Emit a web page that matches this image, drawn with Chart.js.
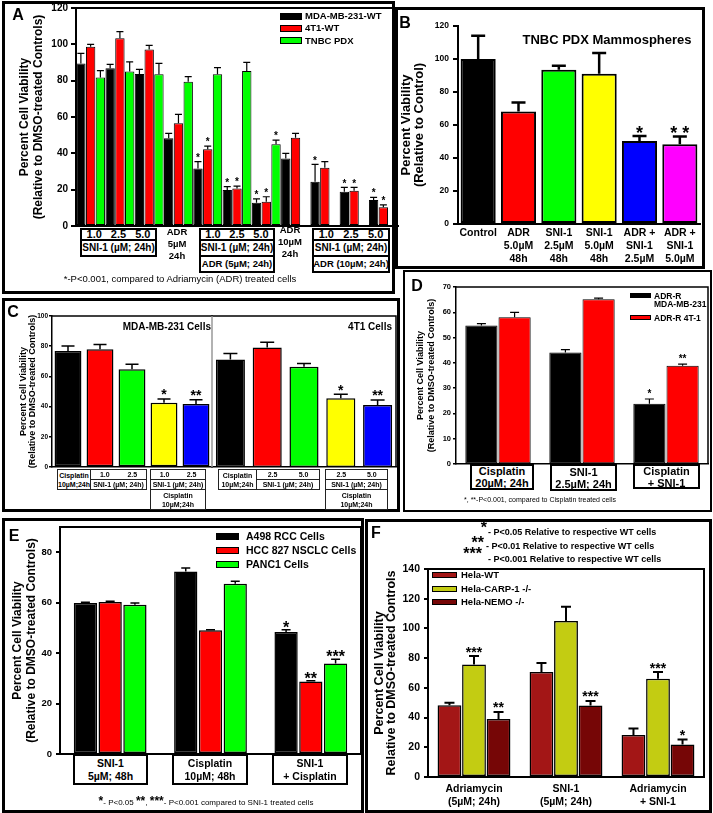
<!DOCTYPE html>
<html>
<head>
<meta charset="utf-8">
<title>SNI-1 cell viability panels</title>
<script src="https://cdn.jsdelivr.net/npm/chart.js@4.4.1/dist/chart.umd.min.js"></script>
<style>
body { margin:0; width:713px; height:813px; position:relative; overflow:hidden; background:#fff; color:#000;
       font-family:'Liberation Sans', Arial, Helvetica, sans-serif; }
.pn { position:absolute; box-sizing:border-box; border:3px solid #000; }
canvas { position:absolute; }
.c { position:absolute; transform:translate(-50%,-50%); text-align:center; white-space:nowrap; font-weight:bold; line-height:1; }
.l { position:absolute; transform:translateY(-50%); white-space:nowrap; font-weight:bold; line-height:1; }
.r { position:absolute; transform:translate(-100%,-50%); white-space:nowrap; font-weight:bold; line-height:1; }
.bx { position:absolute; box-sizing:border-box; border:2px solid #000; display:flex; align-items:center; justify-content:center;
      text-align:center; white-space:nowrap; font-weight:bold; line-height:1; background:#fff; }
.thin { border:1px solid #222; }
.sa { justify-content:space-around; }
.sw { position:absolute; box-sizing:border-box; border:1px solid #000; }
.tag { position:absolute; transform:translate(-50%,-50%); font-weight:bold; font-size:16px; line-height:1; }
.st { font-size:12px; }
</style>
</head>
<body>
<!-- panel frames -->
<div class="pn" style="left:2px;top:1px;width:393px;height:293px"></div>
<div class="pn" style="left:395px;top:7px;width:310px;height:262px"></div>
<div class="pn" style="left:2px;top:298px;width:398px;height:214px"></div>
<div class="pn" style="left:403px;top:270px;width:309px;height:242px;border-width:2px"></div>
<div class="pn" style="left:2px;top:518px;width:362px;height:295px"></div>
<div class="pn" style="left:365px;top:519px;width:347px;height:294px"></div>

<canvas id="chartA"></canvas>
<canvas id="chartB"></canvas>
<canvas id="chartC1"></canvas>
<canvas id="chartC2"></canvas>
<canvas id="chartD"></canvas>
<canvas id="chartE"></canvas>
<canvas id="chartF"></canvas>

<div class="tag" style="left:18px;top:15px">A</div>
<div class="tag" style="left:405px;top:23px">B</div>
<div class="tag" style="left:13px;top:312px">C</div>
<div class="tag" style="left:417px;top:286px">D</div>
<div class="tag" style="left:14px;top:536px">E</div>
<div class="tag" style="left:376px;top:533px">F</div>

<!-- A: treatment table -->
<div class="bx sa" style="left:80px;top:228px;width:77px;height:13px;font-size:11px"><span>1.0</span><span>2.5</span><span>5.0</span></div>
<div class="bx" style="left:80px;top:239px;width:77px;height:18px;font-size:10px">SNI-1 (µM; 24h)</div>
<div class="c" style="left:177px;top:244px;font-size:9.5px;line-height:12px">ADR<br>5µM<br>24h</div>
<div class="bx sa" style="left:199px;top:228px;width:76px;height:13px;font-size:11px"><span>1.0</span><span>2.5</span><span>5.0</span></div>
<div class="bx" style="left:199px;top:239px;width:76px;height:18px;font-size:10px">SNI-1 (µM; 24h)</div>
<div class="bx" style="left:199px;top:255px;width:76px;height:18px;font-size:9.5px">ADR (5µM; 24h)</div>
<div class="c" style="left:290px;top:242px;font-size:9.5px;line-height:12px">ADR<br>10µM<br>24h</div>
<div class="bx sa" style="left:312px;top:228px;width:78px;height:13px;font-size:11px"><span>1.0</span><span>2.5</span><span>5.0</span></div>
<div class="bx" style="left:312px;top:239px;width:78px;height:18px;font-size:10px">SNI-1 (µM; 24h)</div>
<div class="bx" style="left:312px;top:255px;width:78px;height:18px;font-size:9.5px">ADR (10µM; 24h)</div>
<div class="c" style="left:180px;top:279px;font-size:9.5px;font-weight:normal">*-P&lt;0.001, compared to Adriamycin (ADR) treated cells</div>

<!-- B -->
<div class="c" style="left:607px;top:39px;font-size:13px">TNBC PDX Mammospheres</div>

<!-- C -->
<div class="r" style="left:211px;top:327px;font-size:10px">MDA-MB-231 Cells</div>
<div class="r" style="left:392px;top:327px;font-size:10px">4T1 Cells</div>
<div class="bx thin" style="left:57px;top:469px;width:34px;height:21px;font-size:7px;line-height:9px">Cisplatin<br>10µM;24h</div>
<div class="bx thin sa" style="left:90px;top:469px;width:57px;height:11px;font-size:7px"><span>1.0</span><span>2.5</span></div>
<div class="bx thin" style="left:90px;top:479px;width:57px;height:11px;font-size:7px">SNI-1 (µM; 24h)</div>
<div class="bx thin sa" style="left:150px;top:469px;width:56px;height:11px;font-size:7px"><span>1.0</span><span>2.5</span></div>
<div class="bx thin" style="left:150px;top:479px;width:56px;height:11px;font-size:7px">SNI-1 (µM; 24h)</div>
<div class="bx thin" style="left:150px;top:489px;width:56px;height:21px;font-size:7px;line-height:9px">Cisplatin<br>10µM;24h</div>
<div class="bx thin" style="left:218px;top:469px;width:39px;height:21px;font-size:7px;line-height:9px">Cisplatin<br>10µM;24h</div>
<div class="bx thin sa" style="left:256px;top:469px;width:64px;height:11px;font-size:7px"><span>2.5</span><span>5.0</span></div>
<div class="bx thin" style="left:256px;top:479px;width:64px;height:11px;font-size:7px">SNI-1 (µM; 24h)</div>
<div class="bx thin sa" style="left:325px;top:469px;width:63px;height:11px;font-size:7px"><span>2.5</span><span>5.0</span></div>
<div class="bx thin" style="left:325px;top:479px;width:63px;height:11px;font-size:7px">SNI-1 (µM; 24h)</div>
<div class="bx thin" style="left:325px;top:489px;width:63px;height:21px;font-size:7px;line-height:9px">Cisplatin<br>10µM;24h</div>

<!-- D -->
<div class="sw" style="left:630px;top:293px;width:21px;height:5px;background:#000"></div>
<div class="l" style="left:654px;top:295.5px;font-size:8.5px">ADR-R</div>
<div class="l" style="left:654px;top:304px;font-size:8.5px">MDA-MB-231</div>
<div class="sw" style="left:630px;top:315px;width:21px;height:5px;background:#ff0000"></div>
<div class="l" style="left:654px;top:317.5px;font-size:8.5px">ADR-R 4T-1</div>
<div class="bx" style="left:470px;top:464px;width:64px;height:26px;font-size:11px;line-height:12px">Cisplatin<br>20µM; 24h</div>
<div class="bx" style="left:550px;top:464px;width:67px;height:27px;font-size:11px;line-height:12px">SNI-1<br>2.5µM; 24h</div>
<div class="bx" style="left:633px;top:464px;width:67px;height:25px;font-size:11px;line-height:12px">Cisplatin<br>+ SNI-1</div>
<div class="c" style="left:540px;top:499px;font-size:7px;font-weight:normal">*, **-P&lt;0.001, compared to Cisplatin treated cells</div>

<!-- E -->
<div class="bx" style="left:73px;top:754px;width:75px;height:31px;font-size:10.5px;line-height:13px">SNI-1<br>5µM; 48h</div>
<div class="bx" style="left:172px;top:754px;width:76px;height:31px;font-size:10.5px;line-height:13px">Cisplatin<br>10µM; 48h</div>
<div class="bx" style="left:272px;top:754px;width:76px;height:31px;font-size:10.5px;line-height:13px">SNI-1<br>+ Cisplatin</div>
<div class="c" style="left:206px;top:801px;font-size:8px;font-weight:normal"><b class="st">*</b>- P&lt;0.05 <b class="st">**</b>, <b class="st">***</b>- P&lt;0.001 compared to SNI-1 treated cells</div>

<!-- F -->
<div class="r" style="left:487px;top:528px;font-size:16px">*</div>
<div class="l" style="left:488px;top:532px;font-size:9px">- P&lt;0.05 Relative to respective WT cells</div>
<div class="r" style="left:484px;top:543px;font-size:16px">**</div>
<div class="l" style="left:486px;top:546px;font-size:9px">- P&lt;0.01 Relative to respective WT cells</div>
<div class="r" style="left:482px;top:554px;font-size:16px">***</div>
<div class="l" style="left:488px;top:559px;font-size:9px">- P&lt;0.001 Relative to respective WT cells</div>

<script>
// ---------- A: SNI-1 +/- adriamycin, three TNBC models
const aGroups = ['SNI-1 1.0', 'SNI-1 2.5', 'SNI-1 5.0', 'ADR 5', 'ADR5 + SNI-1 1.0', 'ADR5 + SNI-1 2.5',
                 'ADR5 + SNI-1 5.0', 'ADR 10', 'ADR10 + SNI-1 1.0', 'ADR10 + SNI-1 2.5', 'ADR10 + SNI-1 5.0'];
const aSeries = ['MDA-MB-231-WT', '4T1-WT', 'TNBC PDX'];
const aColors = ['#000000', '#ff0000', '#00ff00'];
const aMDA = [89.5, 86.8, 83.7, 48.3, 31.7, 19.8, 12.8, 37.1, 24.4, 18.9, 14.3];
const aMDAerr = [5.5, 2.2, 2.5, 2.7, 3.7, 1.9, 2.1, 2.9, 9.5, 2.4, 1.5];
const aMDAsig = ['', '', '', '', '*', '*', '*', '', '*', '*', '*'];
const a4T1 = [98.7, 103.3, 97.2, 56.5, 42.2, 20.7, 13.4, 48.6, 32.1, 19.4, 10.3];
const a4T1err = [1.3, 3.7, 2.2, 5.0, 1.8, 1.3, 2.7, 2.4, 3.3, 1.9, 1.3];
const a4T1sig = ['', '', '', '', '*', '*', '*', '', '', '*', '*'];
const aPDX = [81.7, 85.0, 83.5, 79.4, 83.5, 85.3, 45.0, null, null, null, null];
const aPDXerr = [3.8, 5.3, 6.0, 2.8, 3.7, 4.8, 2.3, 0, 0, 0, 0];
const aPDXsig = ['', '', '', '', '', '', '*', '', '', '', ''];

// ---------- B: TNBC PDX mammospheres
const bGroups = [['Control'], ['ADR', '5.0µM', '48h'], ['SNI-1', '2.5µM', '48h'], ['SNI-1', '5.0µM', '48h'],
                 ['ADR +', 'SNI-1', '2.5µM'], ['ADR +', 'SNI-1', '5.0µM']];
const bVals = [100, 68.2, 93.5, 91, 50.3, 48.4];
const bErr = [14.1, 5.5, 2.4, 12.6, 3.1, 4.6];
const bSig = ['', '', '', '', '*', '* *'];
const bColors = ['#000000', '#ff0000', '#00ff00', '#ffff00', '#0000ff', '#ff00ff'];

// ---------- C: SNI-1 +/- cisplatin
const cColors = ['#000000', '#ff0000', '#00ff00', '#ffff00', '#0000ff'];
const cMDAgroups = ['Cisplatin', 'SNI-1 1.0', 'SNI-1 2.5', 'SNI-1 1.0 + Cisplatin', 'SNI-1 2.5 + Cisplatin'];
const cMDA = [76.9, 78.0, 64.8, 42.6, 41.8];
const cMDAerr = [3.3, 3.1, 3.3, 2.5, 2.8];
const cMDAsig = ['', '', '', '*', '**'];
const c4T1groups = ['Cisplatin', 'SNI-1 2.5', 'SNI-1 5.0', 'SNI-1 2.5 + Cisplatin', 'SNI-1 5.0 + Cisplatin'];
const c4T1 = [71.2, 79.1, 66.4, 45.5, 41.1];
const c4T1err = [4.0, 3.5, 2.2, 2.6, 3.3];
const c4T1sig = ['', '', '', '*', '**'];

// ---------- D: adriamycin-resistant cells
const dGroups = ['Cisplatin 20µM; 24h', 'SNI-1 2.5µM; 24h', 'Cisplatin + SNI-1'];
const dMDA = [54.8, 44.1, 23.8];
const dMDAerr = [0.7, 1.1, 1.9];
const dMDAsig = ['', '', '*'];
const d4T1 = [58.0, 65.2, 38.9];
const d4T1err = [2.0, 0.4, 0.6];
const d4T1sig = ['', '', '**'];

// ---------- E: other cancer lines
const eGroups = ['SNI-1 5µM; 48h', 'Cisplatin 10µM; 48h', 'SNI-1 + Cisplatin'];
const eSeries = ['A498 RCC Cells', 'HCC 827 NSCLC Cells', 'PANC1 Cells'];
const eColors = ['#000000', '#ff0000', '#00ff00'];
const eA498 = [59.9, 72.4, 48.4];
const eA498err = [0.3, 1.3, 0.9];
const eA498sig = ['', '', '*'];
const eHCC = [60.3, 49.1, 28.7];
const eHCCerr = [0.3, 0.2, 0.3];
const eHCCsig = ['', '', '**'];
const ePANC = [59.2, 67.5, 35.9];
const ePANCerr = [0.7, 1.0, 1.7];
const ePANCsig = ['', '', '***'];

// ---------- F: HeLa knockouts
const fGroups = [['Adriamycin', '(5µM; 24h)'], ['SNI-1', '(5µM; 24h)'], ['Adriamycin', '+ SNI-1']];
const fSeries = ['Hela-WT', 'Hela-CARP-1 -/-', 'Hela-NEMO -/-'];
const fColors = ['#a31616', '#c3cc12', '#760606'];
const fWT = [48.3, 70.6, 28.3];
const fWTerr = [1.6, 6.1, 4.3];
const fWTsig = ['', '', ''];
const fCARP = [75.8, 105.0, 66.1];
const fCARPerr = [5.6, 9.6, 4.5];
const fCARPsig = ['***', '', '***'];
const fNEMO = [39.1, 48.1, 21.8];
const fNEMOerr = [4.7, 3.1, 3.4];
const fNEMOsig = ['**', '***', '*'];

const FONT = "'Liberation Sans', Arial, Helvetica, sans-serif";
Chart.defaults.font.family = FONT;
Chart.defaults.color = '#000';

// error bars (upper half only) plus significance stars
const errorBars = {
  id: 'errorBars',
  afterDatasetsDraw(chart, args, o) {
    const ctx = chart.ctx;
    const y = chart.scales.y;
    ctx.save();
    ctx.strokeStyle = '#000';
    ctx.fillStyle = '#000';
    ctx.lineWidth = o.width;
    ctx.textAlign = 'center';
    ctx.textBaseline = 'alphabetic';
    ctx.font = 'bold ' + o.star + 'px ' + FONT;
    chart.data.datasets.forEach((ds, i) => {
      chart.getDatasetMeta(i).data.forEach((bar, j) => {
        const v = ds.data[j];
        if (v == null) return;
        const top = y.getPixelForValue(v + (ds.errors ? ds.errors[j] : 0));
        ctx.beginPath();
        ctx.moveTo(bar.x, bar.y);
        ctx.lineTo(bar.x, top);
        ctx.moveTo(bar.x - o.cap / 2, top);
        ctx.lineTo(bar.x + o.cap / 2, top);
        ctx.stroke();
        const s = ds.stars && ds.stars[j];
        // asterisk sits roughly 0.32em above the baseline at its lower edge
        if (s) ctx.fillText(s, bar.x, top - o.gap + 0.32 * o.star);
      });
    });
    ctx.restore();
  }
};

// extra plot frame lines (top / right / divider)
const frame = {
  id: 'frame',
  afterDraw(chart, args, o) {
    if (!o.sides) return;
    const ctx = chart.ctx;
    const a = chart.chartArea;
    ctx.save();
    ctx.lineWidth = o.width;
    ctx.strokeStyle = '#000';
    ctx.beginPath();
    if (o.sides.indexOf('t') >= 0) { ctx.moveTo(a.left - o.width / 2, a.top); ctx.lineTo(a.right + o.width / 2, a.top); }
    if (o.sides.indexOf('r') >= 0) { ctx.moveTo(a.right, a.top); ctx.lineTo(a.right, a.bottom); }
    ctx.stroke();
    if (o.divider) {
      ctx.strokeStyle = o.divider;
      ctx.beginPath();
      ctx.moveTo(a.left, a.top);
      ctx.lineTo(a.left, a.bottom);
      ctx.stroke();
    }
    ctx.restore();
  }
};

function bold(size, lh) {
  const f = {family: FONT, size: size, weight: 'bold'};
  if (lh) f.lineHeight = lh + 'px';
  return f;
}

function series(label, data, errors, stars, color) {
  return {label: label, data: data, errors: errors, stars: stars, backgroundColor: color};
}

// box = plot area in page pixels, yw = room for y ticks + title, xh = room for x labels
function panelChart(id, box, yw, xh, labels, datasets, o) {
  const P = 14;
  const cv = document.getElementById(id);
  cv.width = box.r - box.l + yw + 2 * P;
  cv.height = box.b - box.t + xh + 2 * P;
  cv.style.left = (box.l - yw - P) + 'px';
  cv.style.top = (box.t - P) + 'px';
  return new Chart(cv, {
    type: 'bar',
    data: {labels: labels, datasets: datasets},
    options: {
      responsive: false,
      animation: false,
      devicePixelRatio: 1,
      layout: {padding: P},
      datasets: {bar: {categoryPercentage: o.cat, barPercentage: o.bar, borderColor: '#000',
                       borderWidth: o.bw, borderSkipped: false}},
      plugins: {legend: {display: false}, tooltip: {enabled: false},
                errorBars: o.err, frame: o.frame || {sides: ''}},
      scales: {
        x: {
          afterFit: s => { s.height = xh; },
          border: {display: true, color: '#000', width: o.axis},
          grid: {display: false, drawTicks: false},
          ticks: {display: !!o.xFont, font: o.xFont || bold(10), padding: o.xPad || 3,
                  autoSkip: false, maxRotation: 0, color: '#000'}
        },
        y: {
          display: !o.noY,
          min: 0,
          max: o.max,
          afterFit: s => { s.width = yw; },
          border: {display: true, color: '#000', width: o.axis},
          grid: {drawOnChartArea: false, tickLength: o.tick || 4, color: '#000', lineWidth: o.axis},
          ticks: {stepSize: o.step, includeBounds: false, font: o.yFont || bold(10), padding: o.pad || 3, color: '#000'},
          title: {display: !!o.title, text: o.title || '', font: o.titleFont || bold(10), padding: 0, color: '#000'}
        }
      }
    },
    plugins: [errorBars, frame]
  });
}

function legend(x, y0, dy, names, colors, sw, fs) {
  names.forEach((n, i) => {
    const s = document.createElement('div');
    s.className = 'sw';
    s.style.cssText = 'left:' + x + 'px;top:' + (y0 + i * dy - sw.h / 2) + 'px;width:' + sw.w +
                      'px;height:' + sw.h + 'px;background:' + colors[i];
    document.body.appendChild(s);
    const t = document.createElement('div');
    t.className = 'l';
    t.style.cssText = 'left:' + (x + sw.w + sw.gap) + 'px;top:' + (y0 + i * dy) + 'px;font-size:' + fs + 'px';
    t.textContent = n;
    document.body.appendChild(t);
  });
}

const viab = ['Percent Cell Viability', '(Relative to DMSO-treated Controls)'];

panelChart('chartA', {l: 76, t: 8, r: 398, b: 226}, 58, 0, aGroups, [
  series(aSeries[0], aMDA, aMDAerr, aMDAsig, aColors[0]),
  series(aSeries[1], a4T1, a4T1err, a4T1sig, aColors[1]),
  series(aSeries[2], aPDX, aPDXerr, aPDXsig, aColors[2])
], {max: 120, step: 20, tick: 5, pad: 3, yFont: bold(10), title: viab, titleFont: bold(12, 14),
    axis: 2, bw: 1, cat: 1, bar: 0.96, err: {cap: 7, width: 1.2, star: 10, gap: 4},
    frame: {sides: 't', width: 2}});
legend(280, 16, 12.3, aSeries, aColors, {w: 22, h: 7, gap: 3}, 9.5);

panelChart('chartB', {l: 458, t: 26, r: 700, b: 224}, 58, 45, bGroups, [
  series('TNBC PDX Mammospheres', bVals, bErr, bSig, bColors)
], {max: 120, step: 20, tick: 5, pad: 4, yFont: bold(8.5), title: ['Percent Viability', '(Relative to Control)'],
    titleFont: bold(13, 13), xFont: bold(10.5, 13), xPad: 3, axis: 2, bw: 2, cat: 1, bar: 0.87,
    err: {cap: 14, width: 2.5, star: 18, gap: 3}});

panelChart('chartC1', {l: 52, t: 316, r: 212, b: 467}, 33, 0, cMDAgroups, [
  series('MDA-MB-231 Cells', cMDA, cMDAerr, cMDAsig, cColors)
], {max: 100, step: 20, tick: 3, pad: 1, yFont: bold(6.5), title: viab, titleFont: bold(9, 9),
    axis: 1.5, bw: 1.5, cat: 1, bar: 0.84, err: {cap: 13, width: 1.5, star: 14, gap: 4},
    frame: {sides: 't', width: 1.5}});

panelChart('chartC2', {l: 212, t: 316, r: 396, b: 467}, 0, 0, c4T1groups, [
  series('4T1 Cells', c4T1, c4T1err, c4T1sig, cColors)
], {noY: true, max: 100, step: 20, axis: 1.5, bw: 1.5, cat: 1, bar: 0.79,
    err: {cap: 14, width: 1.5, star: 14, gap: 4}, frame: {sides: 'tr', width: 1.5, divider: '#999'}});

panelChart('chartD', {l: 456, t: 287, r: 708, b: 464}, 41, 0, dGroups, [
  series('ADR-R MDA-MB-231', dMDA, dMDAerr, dMDAsig, '#000000'),
  series('ADR-R 4T-1', d4T1, d4T1err, d4T1sig, '#ff0000')
], {max: 70, step: 10, tick: 3, pad: 2, yFont: bold(7.5), title: viab, titleFont: bold(9, 11),
    axis: 1.5, bw: 1, cat: 0.79, bar: 0.97, err: {cap: 9, width: 1.2, star: 10, gap: 5},
    frame: {sides: 'tr', width: 1.5}});

panelChart('chartE', {l: 60, t: 527, r: 361, b: 754}, 49, 0, eGroups, [
  series(eSeries[0], eA498, eA498err, eA498sig, eColors[0]),
  series(eSeries[1], eHCC, eHCCerr, eHCCsig, eColors[1]),
  series(eSeries[2], ePANC, ePANCerr, ePANCsig, eColors[2])
], {max: 90, step: 20, tick: 4, pad: 4, yFont: bold(9.5), title: viab, titleFont: bold(12, 14),
    axis: 2, bw: 1.5, cat: 0.74, bar: 0.94, err: {cap: 9, width: 1.5, star: 16, gap: 2},
    frame: {sides: 'tr', width: 2}});
legend(216, 536, 14, eSeries, eColors, {w: 23, h: 7, gap: 7}, 10.5);

panelChart('chartF', {l: 428, t: 569, r: 704, b: 777}, 54, 40, fGroups, [
  series(fSeries[0], fWT, fWTerr, fWTsig, fColors[0]),
  series(fSeries[1], fCARP, fCARPerr, fCARPsig, fColors[1]),
  series(fSeries[2], fNEMO, fNEMOerr, fNEMOsig, fColors[2])
], {max: 140, step: 20, tick: 4, pad: 4, yFont: bold(10.5),
    title: ['Percent Cell Viability', 'Relative to DMSO-treated Controls'], titleFont: bold(12.5, 12),
    xFont: bold(10.5, 13.5), xPad: 5, axis: 2, bw: 1.5, cat: 0.8, bar: 0.97,
    err: {cap: 10, width: 2, star: 14, gap: 4}, frame: {sides: 'tr', width: 2}});
legend(432, 575, 13.5, fSeries, fColors, {w: 25, h: 6, gap: 4}, 9.5);
</script>
</body>
</html>
